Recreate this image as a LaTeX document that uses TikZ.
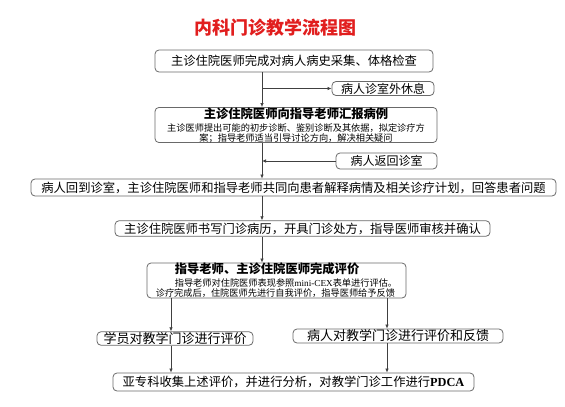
\documentclass[tikz,border=0pt]{standalone}
\usepackage{fontspec}
\setmainfont{Noto Sans CJK SC}
\newfontfamily\latin{Liberation Serif}
\usetikzlibrary{arrows.meta, positioning}

\definecolor{titlered}{RGB}{225,30,30}
\definecolor{boxgray}{RGB}{105,105,105}

\begin{document}
\begin{tikzpicture}[
    x=1pt, y=-1pt,
    arrow/.style={-{Latex[length=4pt,width=3.5pt]}, line width=0.7pt, black!75},
    block/.style={
        rectangle,
        rounded corners=4pt,
        inner sep=0pt,
        align=center,
        draw=boxgray,
        line width=0.8pt,
        font=\fontsize{12.3}{14}\selectfont
    },
    side/.style={block, font=\fontsize{12}{14}\selectfont},
    wide/.style={block, font=\fontsize{13}{15}\selectfont},
    twopart/.style={block, font=\fontsize{9.2}{10}\selectfont},
    heading/.style={font=\fontsize{18}{20}\selectfont\bfseries, text=titlered}
]

\useasboundingbox (0,0) rectangle (565,407);

\coordinate (main) at (262,0);
\coordinate (lt) at (171,0);
\coordinate (rt) at (387,0);

\node[heading] (title) at (275,28) {内科门诊教学流程图};

\node[block, minimum width=278pt, minimum height=22pt] (collect) at (294,61)
    {主诊住院医师完成对病人病史采集、体格检查};

\node[side, minimum width=102pt, minimum height=14pt] (rest) at (383,88.5)
    {病人诊室外休息};

\node[twopart, minimum width=282pt, minimum height=34pt] (report) at (296,125) {
    {\fontsize{12.3}{14}\selectfont\bfseries 主诊住院医师向指导老师汇报病例}\\[3pt]
    主诊医师提出可能的初步诊断、鉴别诊断及其依据，拟定诊疗方\\
    案；指导老师适当引导讨论方向，解决相关疑问
};

\node[side, minimum width=101pt, minimum height=16pt] (back) at (386.5,161)
    {病人返回诊室};

\node[block, minimum width=525pt, minimum height=17pt] (explain) at (293.5,187.5)
    {病人回到诊室，主诊住院医师和指导老师共同向患者解释病情及相关诊疗计划，回答患者问题};

\node[block, minimum width=375pt, minimum height=15.5pt] (record) at (302.5,228.5)
    {主诊住院医师书写门诊病历，开具门诊处方，指导医师审核并确认};

\node[twopart, align=left, minimum width=259pt, minimum height=35pt] (evaluate) at (276.5,280.5) {
    \hspace*{19pt}{\fontsize{12.3}{14}\selectfont\bfseries 指导老师、主诊住院医师完成评价}\\[3pt]
    \hspace*{19pt}指导老师对住院医师表现参照{\latin mini-CEX}表单进行评估。\\
    诊疗完成后，住院医师先进行自我评价，指导医师给予反馈
};

\node[wide, minimum width=156pt, minimum height=13.5pt] (student) at (175,338.5)
    {学员对教学门诊进行评价};

\node[wide, minimum width=210pt, minimum height=14pt] (patient) at (398,336)
    {病人对教学门诊进行评价和反馈};

\node[block, minimum width=361pt, minimum height=18pt] (pdca) at (293.5,382)
    {亚专科收集上述评价，并进行分析，对教学门诊工作进行{\latin\bfseries PDCA}};

\draw[arrow] (collect.south -| main) -- (report.north -| main);
\draw[arrow] (rest.west -| main) -- (rest.west);
\draw[arrow] (report.south -| main) -- (explain.north -| main);
\draw[arrow] (back.west) -- (back.west -| main);
\draw[arrow] (explain.south -| main) -- (record.north -| main);
\draw[arrow] (record.south -| main) -- (evaluate.north -| main);
\draw[arrow] (evaluate.south -| lt) -- (student.north -| lt);
\draw[arrow] (evaluate.south -| rt) -- (patient.north -| rt);
\draw[arrow] (student.south -| lt) -- (pdca.north -| lt);
\draw[arrow] (patient.south -| rt) -- (pdca.north -| rt);

\end{tikzpicture}
\end{document}
